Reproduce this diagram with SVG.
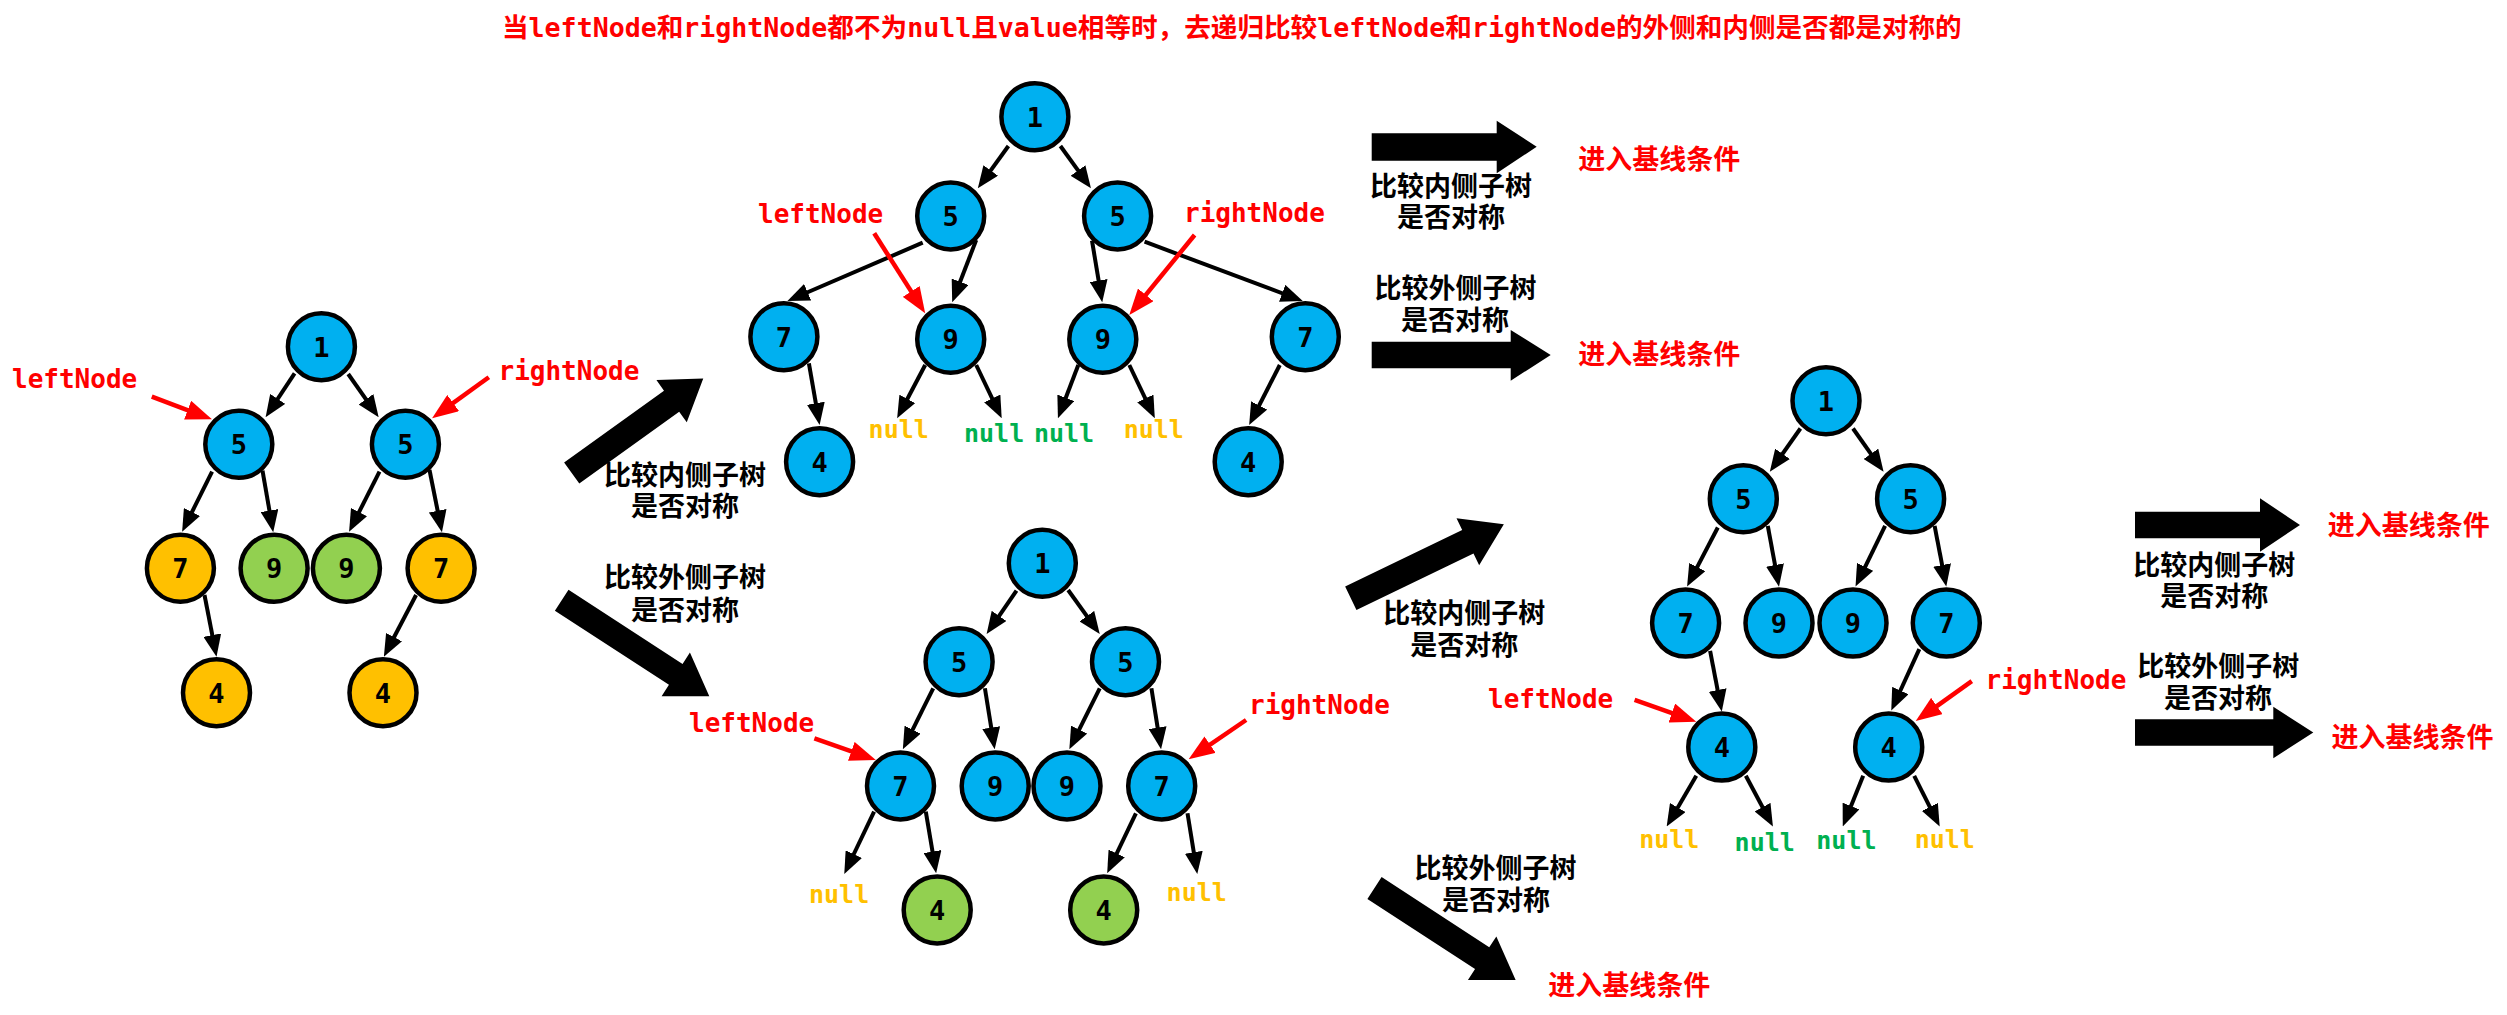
<svg xmlns="http://www.w3.org/2000/svg" width="2507" height="1015" viewBox="0 0 2507 1015">
<style>
.bg{fill:#FFFFFF}
.nd circle{stroke:#000;stroke-width:4.5}
.blue{fill:#00B0F0}
.orange{fill:#FFC000}
.green{fill:#92D050}
.num{font-family:"DejaVu Sans Mono","Liberation Mono",monospace;font-weight:bold;font-size:27px;text-anchor:middle;fill:#000}
.edge{stroke:#000;stroke-width:4;fill:none;marker-end:url(#ah)}
.redarrow{stroke:#FF0000;stroke-width:4.5;fill:none;marker-end:url(#rh)}
.blk{fill:#000}
.lbl{font-family:"DejaVu Sans Mono","Liberation Mono",monospace;font-weight:bold;font-size:26px;fill:#FF0000}
.nul{font-family:"DejaVu Sans Mono","Liberation Mono",monospace;font-weight:bold;font-size:25px}
.ny{fill:#FFC000}
.ng{fill:#00B050}
.cn{font-family:"Noto Sans CJK SC","Noto Sans",sans-serif;font-weight:bold;font-size:27px;text-anchor:middle;fill:#000}
.cnr{font-family:"Noto Sans CJK SC","Noto Sans",sans-serif;font-weight:bold;font-size:27px;text-anchor:middle;fill:#FF0000}
.title{font-family:"DejaVu Sans Mono","Noto Sans CJK SC",monospace;font-weight:bold;font-size:26.6px;fill:#FF0000}
</style>
<defs>
<marker id="ah" markerUnits="userSpaceOnUse" markerWidth="22" markerHeight="18" refX="12" refY="9" orient="auto"><path d="M0,0 L22,9 L0,18 z" fill="#000"/></marker>
<marker id="rh" markerUnits="userSpaceOnUse" markerWidth="26" markerHeight="20" refX="16" refY="10" orient="auto"><path d="M0,0 L26,10 L0,20 z" fill="#FF0000"/></marker>
</defs>
<rect class="bg" x="0" y="0" width="2507" height="1015"/>

<text id="title" class="title" x="502" y="36.5">当leftNode和rightNode都不为null且value相等时，去递归比较leftNode和rightNode的外侧和内侧是否都是对称的</text>

<g id="connectors">
<!-- tree 1 -->
<path class="edge" d="M294.6,373.3 L271.1,408.9"/>
<path class="edge" d="M348.2,374 L372.9,409.1"/>
<path class="edge" d="M212.1,471.7 L186.6,522.8"/>
<path class="edge" d="M262.5,470.7 L271.5,522.4"/>
<path class="edge" d="M379.5,471.7 L353.6,522.8"/>
<path class="edge" d="M429.5,470 L440,522.5"/>
<path class="edge" d="M204.5,595 L214.6,646.9"/>
<path class="edge" d="M416.1,595 L388.5,647.8"/>
<!-- tree 2 -->
<path class="edge" d="M1008.4,146 L983.7,180.2"/>
<path class="edge" d="M1060.4,146 L1085.1,180.2"/>
<path class="edge" d="M922.7,242.7 L796.6,297"/>
<path class="edge" d="M976.2,240 L955.8,293"/>
<path class="edge" d="M1092,240.7 L1100.6,292.4"/>
<path class="edge" d="M1144.6,241.7 L1293.4,297.5"/>
<path class="edge" d="M808.9,363.3 L817.9,415.1"/>
<path class="edge" d="M925.2,365 L901.8,409.5"/>
<path class="edge" d="M976.2,365 L997.4,409.3"/>
<path class="edge" d="M1078.3,365 L1061.5,409"/>
<path class="edge" d="M1129.3,365 L1150.5,409.3"/>
<path class="edge" d="M1279.8,365 L1253.7,416.1"/>
<!-- tree 3 -->
<path class="edge" d="M1016.5,590.7 L992.3,625.8"/>
<path class="edge" d="M1068.1,590 L1093.9,625.9"/>
<path class="edge" d="M933.2,688.3 L907.3,740.4"/>
<path class="edge" d="M984.9,688.3 L993.1,739.4"/>
<path class="edge" d="M1099.7,688.3 L1073.8,740.4"/>
<path class="edge" d="M1151.4,688.3 L1159.5,739.4"/>
<path class="edge" d="M874.1,811.7 L848.6,865"/>
<path class="edge" d="M925.8,811.7 L934.5,863.4"/>
<path class="edge" d="M1135.9,813.3 L1111.5,864.3"/>
<path class="edge" d="M1187.5,813.3 L1195.7,864.1"/>
<!-- tree 4 -->
<path class="edge" d="M1800.4,428.5 L1775.6,463.6"/>
<path class="edge" d="M1853,428.5 L1877.8,463.6"/>
<path class="edge" d="M1717.8,527.5 L1691.7,577.7"/>
<path class="edge" d="M1767.8,525.8 L1777.2,576.8"/>
<path class="edge" d="M1885.1,525.8 L1859.9,577.6"/>
<path class="edge" d="M1934.6,525.8 L1944.4,576.8"/>
<path class="edge" d="M1710.1,650.8 L1719.9,701.8"/>
<path class="edge" d="M1919.3,649.1 L1895.4,701.5"/>
<path class="edge" d="M1696.3,775.8 L1671.7,817.9"/>
<path class="edge" d="M1745.8,775.8 L1768.2,817.7"/>
<path class="edge" d="M1863.2,775.8 L1846.5,817.2"/>
<path class="edge" d="M1914.2,775.8 L1935.2,817.6"/>
<!-- red pointer arrows -->
<path class="redarrow" d="M151.8,396.7 L202.6,415.8"/>
<path class="redarrow" d="M488.8,377.3 L440.2,412.4"/>
<path class="redarrow" d="M874.2,233.3 L919.8,304.9"/>
<path class="redarrow" d="M1194.6,235 L1135.6,307.3"/>
<path class="redarrow" d="M814.4,738.3 L866.4,756.7"/>
<path class="redarrow" d="M1246.1,720 L1196.9,753.7"/>
<path class="redarrow" d="M1634.6,699.8 L1686.9,718.4"/>
<path class="redarrow" d="M1971.8,681.2 L1923.9,715.3"/>
<!-- block arrows -->
<polygon class="blk" transform="translate(571.7,473) rotate(-35.7)" points="0,-13 123,-13 123,-26 162,0 123,26 123,13 0,13"/>
<polygon class="blk" transform="translate(561.7,600.3) rotate(33)" points="0,-12.5 136,-12.5 136,-26 176,0 136,26 136,12.5 0,12.5"/>
<polygon class="blk" transform="translate(1350.8,598.3) rotate(-25.8)" points="0,-13 130,-13 130,-26 170,0 130,26 130,13 0,13"/>
<polygon class="blk" transform="translate(1374.5,888) rotate(33.1)" points="0,-13 128.5,-13 128.5,-26 168.5,0 128.5,26 128.5,13 0,13"/>
<polygon class="blk" points="1371.7,133.3 1496.7,133.3 1496.7,120.7 1536.7,146.7 1496.7,173.3 1496.7,160.7 1371.7,160.7"/>
<polygon class="blk" points="1371.7,341.7 1510.7,341.7 1510.7,330 1550.7,355 1510.7,380.7 1510.7,368.3 1371.7,368.3"/>
<polygon class="blk" points="2135,511.7 2260,511.7 2260,498.3 2300,525 2260,551.7 2260,538.3 2135,538.3"/>
<polygon class="blk" points="2135,719.3 2273.3,719.3 2273.3,706.7 2313.3,732.5 2273.3,758.3 2273.3,745.7 2135,745.7"/>
</g>

<!-- Tree 1 -->
<g id="t1-n1" class="nd"><circle class="blue" cx="321.4" cy="346.7" r="33.5"/><text class="num" x="321.4" y="356.5">1</text></g>
<g id="t1-n5a" class="nd"><circle class="blue" cx="238.8" cy="444.3" r="33.5"/><text class="num" x="238.8" y="454.1">5</text></g>
<g id="t1-n5b" class="nd"><circle class="blue" cx="405.4" cy="444.3" r="33.5"/><text class="num" x="405.4" y="454.1">5</text></g>
<g id="t1-n7a" class="nd"><circle class="orange" cx="180.4" cy="568.3" r="33.5"/><text class="num" x="180.4" y="578.1">7</text></g>
<g id="t1-n9a" class="nd"><circle class="green" cx="274.1" cy="568.3" r="33.5"/><text class="num" x="274.1" y="578.1">9</text></g>
<g id="t1-n9b" class="nd"><circle class="green" cx="346.4" cy="568.3" r="33.5"/><text class="num" x="346.4" y="578.1">9</text></g>
<g id="t1-n7b" class="nd"><circle class="orange" cx="441.1" cy="568.3" r="33.5"/><text class="num" x="441.1" y="578.1">7</text></g>
<g id="t1-n4a" class="nd"><circle class="orange" cx="216.5" cy="692.7" r="33.5"/><text class="num" x="216.5" y="702.5">4</text></g>
<g id="t1-n4b" class="nd"><circle class="orange" cx="383" cy="692.7" r="33.5"/><text class="num" x="383" y="702.5">4</text></g>
<text id="t1-left" class="lbl" x="12" y="387.5">leftNode</text>
<text id="t1-right" class="lbl" x="498.5" y="380">rightNode</text>

<!-- Tree 2 -->
<g id="t2-n1" class="nd"><circle class="blue" cx="1034.9" cy="116.7" r="33.5"/><text class="num" x="1034.9" y="126.5">1</text></g>
<g id="t2-n5a" class="nd"><circle class="blue" cx="950.7" cy="216" r="33.5"/><text class="num" x="950.7" y="225.8">5</text></g>
<g id="t2-n5b" class="nd"><circle class="blue" cx="1117.6" cy="216" r="33.5"/><text class="num" x="1117.6" y="225.8">5</text></g>
<g id="t2-n7a" class="nd"><circle class="blue" cx="783.9" cy="336.7" r="33.5"/><text class="num" x="783.9" y="346.5">7</text></g>
<g id="t2-n9a" class="nd"><circle class="blue" cx="950.7" cy="339.3" r="33.5"/><text class="num" x="950.7" y="349.1">9</text></g>
<g id="t2-n9b" class="nd"><circle class="blue" cx="1102.8" cy="339.3" r="33.5"/><text class="num" x="1102.8" y="349.1">9</text></g>
<g id="t2-n7b" class="nd"><circle class="blue" cx="1305.3" cy="336.7" r="33.5"/><text class="num" x="1305.3" y="346.5">7</text></g>
<g id="t2-n4a" class="nd"><circle class="blue" cx="819.6" cy="461.7" r="33.5"/><text class="num" x="819.6" y="471.5">4</text></g>
<g id="t2-n4b" class="nd"><circle class="blue" cx="1248.2" cy="461.7" r="33.5"/><text class="num" x="1248.2" y="471.5">4</text></g>
<text class="nul ny" x="868.6" y="438.3">null</text>
<text class="nul ng" x="964" y="441.7">null</text>
<text class="nul ng" x="1033.9" y="441.7">null</text>
<text class="nul ny" x="1123.7" y="438.3">null</text>
<text id="t2-left" class="lbl" x="758" y="223.3">leftNode</text>
<text id="t2-right" class="lbl" x="1184" y="222">rightNode</text>

<!-- Tree 3 -->
<g id="t3-n1" class="nd"><circle class="blue" cx="1042.3" cy="563.3" r="33.5"/><text class="num" x="1042.3" y="573.1">1</text></g>
<g id="t3-n5a" class="nd"><circle class="blue" cx="959.1" cy="661.7" r="33.5"/><text class="num" x="959.1" y="671.5">5</text></g>
<g id="t3-n5b" class="nd"><circle class="blue" cx="1125.5" cy="661.7" r="33.5"/><text class="num" x="1125.5" y="671.5">5</text></g>
<g id="t3-n7a" class="nd"><circle class="blue" cx="900.5" cy="786" r="33.5"/><text class="num" x="900.5" y="795.8">7</text></g>
<g id="t3-n9a" class="nd"><circle class="blue" cx="995.2" cy="786" r="33.5"/><text class="num" x="995.2" y="795.8">9</text></g>
<g id="t3-n9b" class="nd"><circle class="blue" cx="1067" cy="786" r="33.5"/><text class="num" x="1067" y="795.8">9</text></g>
<g id="t3-n7b" class="nd"><circle class="blue" cx="1161.7" cy="786" r="33.5"/><text class="num" x="1161.7" y="795.8">7</text></g>
<g id="t3-n4a" class="nd"><circle class="green" cx="937.2" cy="910" r="33.5"/><text class="num" x="937.2" y="919.8">4</text></g>
<g id="t3-n4b" class="nd"><circle class="green" cx="1103.7" cy="910" r="33.5"/><text class="num" x="1103.7" y="919.8">4</text></g>
<text class="nul ny" x="809" y="903.3">null</text>
<text class="nul ny" x="1166.6" y="900.7">null</text>
<text id="t3-left" class="lbl" x="689" y="731.7">leftNode</text>
<text id="t3-right" class="lbl" x="1249" y="714">rightNode</text>

<!-- Tree 4 -->
<g id="t4-n1" class="nd"><circle class="blue" cx="1826" cy="400.8" r="33.5"/><text class="num" x="1826" y="410.6">1</text></g>
<g id="t4-n5a" class="nd"><circle class="blue" cx="1743.3" cy="498.8" r="33.5"/><text class="num" x="1743.3" y="508.6">5</text></g>
<g id="t4-n5b" class="nd"><circle class="blue" cx="1910.6" cy="498.8" r="33.5"/><text class="num" x="1910.6" y="508.6">5</text></g>
<g id="t4-n7a" class="nd"><circle class="blue" cx="1685.6" cy="623.1" r="33.5"/><text class="num" x="1685.6" y="632.9">7</text></g>
<g id="t4-n9a" class="nd"><circle class="blue" cx="1779" cy="623.1" r="33.5"/><text class="num" x="1779" y="632.9">9</text></g>
<g id="t4-n9b" class="nd"><circle class="blue" cx="1853" cy="623.1" r="33.5"/><text class="num" x="1853" y="632.9">9</text></g>
<g id="t4-n7b" class="nd"><circle class="blue" cx="1946.3" cy="623.1" r="33.5"/><text class="num" x="1946.3" y="632.9">7</text></g>
<g id="t4-n4a" class="nd"><circle class="blue" cx="1721.8" cy="747.1" r="33.5"/><text class="num" x="1721.8" y="756.9">4</text></g>
<g id="t4-n4b" class="nd"><circle class="blue" cx="1888.7" cy="747.1" r="33.5"/><text class="num" x="1888.7" y="756.9">4</text></g>
<text class="nul ny" x="1639.2" y="848.4">null</text>
<text class="nul ng" x="1734.6" y="850.8">null</text>
<text class="nul ng" x="1816.3" y="849">null</text>
<text class="nul ny" x="1914.7" y="848.4">null</text>
<text id="t4-left" class="lbl" x="1488" y="707.6">leftNode</text>
<text id="t4-right" class="lbl" x="1985.5" y="688.5">rightNode</text>

<!-- arrow captions -->
<g id="captions">
<text class="cn" x="685" y="484.5">比较内侧子树<tspan x="685" y="516.3">是否对称</tspan></text>
<text class="cn" x="685" y="587">比较外侧子树<tspan x="685" y="619.5">是否对称</tspan></text>
<text class="cn" x="1464.2" y="623">比较内侧子树<tspan x="1464.2" y="654.5">是否对称</tspan></text>
<text class="cn" x="1495.5" y="878">比较外侧子树<tspan x="1496" y="909.5">是否对称</tspan></text>
<text class="cn" x="1451" y="196.3">比较内侧子树<tspan x="1451" y="227.3">是否对称</tspan></text>
<text class="cn" x="1455.5" y="298">比较外侧子树<tspan x="1455" y="329.5">是否对称</tspan></text>
<text class="cn" x="2214.2" y="574.5">比较内侧子树<tspan x="2214.2" y="606.3">是否对称</tspan></text>
<text class="cn" x="2218.3" y="676.3">比较外侧子树<tspan x="2218" y="708">是否对称</tspan></text>
<text class="cnr" x="1659.2" y="168.5">进入基线条件</text>
<text class="cnr" x="1659.2" y="363.5">进入基线条件</text>
<text class="cnr" x="2408.8" y="534.5">进入基线条件</text>
<text class="cnr" x="2412.5" y="747">进入基线条件</text>
<text class="cnr" x="1629.2" y="994.5">进入基线条件</text>
</g>
</svg>
